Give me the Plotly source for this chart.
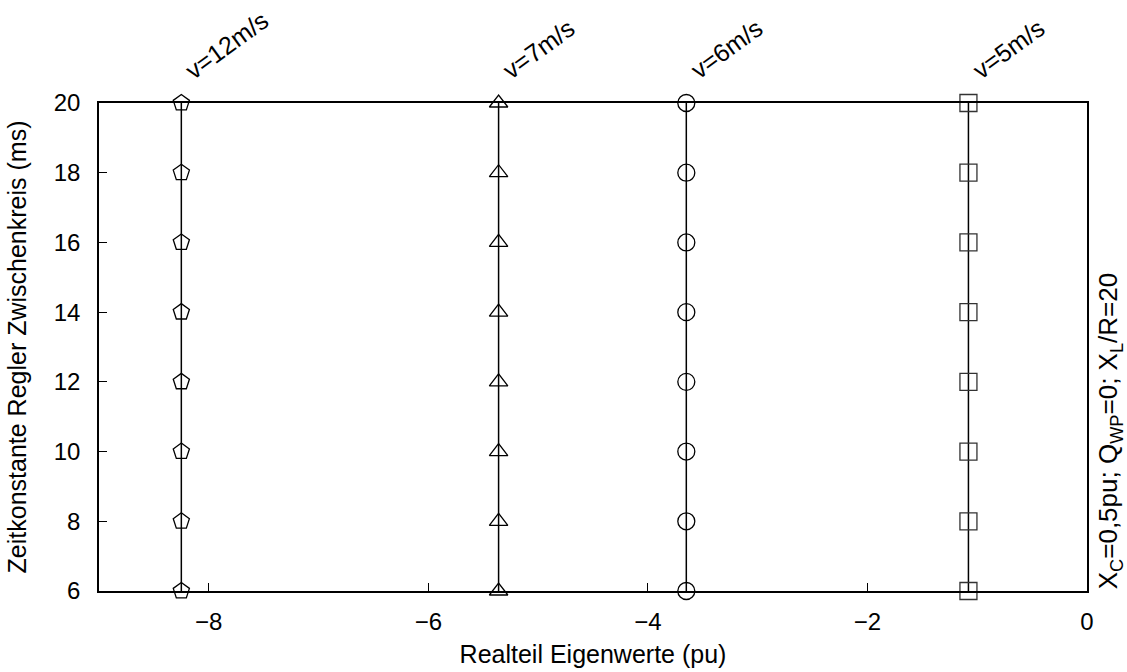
import plotly.graph_objects as go

# Data
tau_ms = [6, 8, 10, 12, 14, 16, 18, 20]
speeds = ["v=12m/s", "v=7m/s", "v=6m/s", "v=5m/s"]
real_12 = [-8.25, -8.25, -8.25, -8.25, -8.25, -8.25, -8.25, -8.25]
real_7 = [-5.36, -5.36, -5.36, -5.36, -5.36, -5.36, -5.36, -5.36]
real_6 = [-3.65, -3.65, -3.65, -3.65, -3.65, -3.65, -3.65, -3.65]
real_5 = [-1.08, -1.08, -1.08, -1.08, -1.08, -1.08, -1.08, -1.08]
series = [real_12, real_7, real_6, real_5]
symbols = ["pentagon-open", "triangle-up-open", "circle-open", "square-open"]
sizes = [17, 16, 17, 17]
mcolors = ["#000000", "#000000", "#000000", "#333333"]

x_ticks = [-8, -6, -4, -2, 0]
x_ticktext = ["\u22128", "\u22126", "\u22124", "\u22122", "0"]
y_ticks = [6, 8, 10, 12, 14, 16, 18, 20]

FONT = "Liberation Sans, Arial, Helvetica, sans-serif"
FS = 25
FT = 24

fig = go.Figure()
for xs, sym, sz, mc in zip(series, symbols, sizes, mcolors):
    fig.add_trace(go.Scatter(
        x=xs, y=tau_ms, mode="lines+markers",
        line=dict(color="black", width=1.5),
        marker=dict(symbol=sym, size=sz, color=mc, line=dict(width=1.3, color=mc)),
        showlegend=False, cliponaxis=False, hoverinfo="skip",
    ))

for xs, label in zip(series, speeds):
    fig.add_annotation(
        x=xs[-1], y=tau_ms[-1], xref="x", yref="y",
        text=label, showarrow=False, textangle=-36,
        xanchor="left", yanchor="bottom", xshift=-4, yshift=16,
        font=dict(family=FONT, size=FS, color="black"),
    )

fig.add_annotation(
    x=1.0225, y=0, xref="paper", yref="paper",
    text="X<sub>C</sub>=0,5pu; Q<sub>WP</sub>=0; X<sub>L</sub>/R=20",
    showarrow=False, textangle=-90, xanchor="center", yanchor="bottom",
    font=dict(family=FONT, size=26, color="black"),
)

axis_common = dict(
    showline=True, linecolor="black", linewidth=1.5, mirror=True,
    ticks="inside", ticklen=8, tickwidth=1.2, tickcolor="black",
    showgrid=False, zeroline=False,
    tickfont=dict(family=FONT, size=FT, color="black"),
)

fig.update_xaxes(
    range=[-9, 0], tickvals=x_ticks, ticktext=x_ticktext,
    title=dict(text="Realteil Eigenwerte (pu)", font=dict(family=FONT, size=FS, color="black"), standoff=12),
    ticklabelstandoff=8,
    **axis_common,
)
fig.update_yaxes(
    range=[6, 20], tickvals=y_ticks,
    title=dict(text="Zeitkonstante Regler Zwischenkreis (ms)", font=dict(family=FONT, size=FS, color="black"), standoff=20),
    ticklabelstandoff=12,
    **axis_common,
)

fig.update_layout(
    width=1127, height=672,
    margin=dict(l=99, r=40, t=103, b=81, autoexpand=False),
    paper_bgcolor="white", plot_bgcolor="white",
    font=dict(family=FONT, size=FS, color="black"),
)

fig.write_html(
    "out.html",
    config={"displayModeBar": False},
    post_script="document.body.style.margin='0px';document.body.style.overflow='hidden';",
)
